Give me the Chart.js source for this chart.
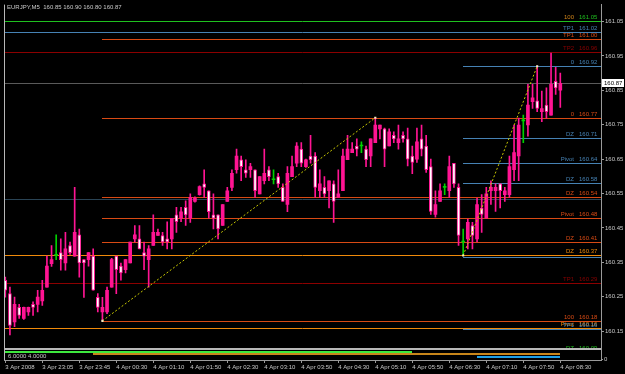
<!DOCTYPE html>
<html>
<head>
<meta charset="utf-8">
<script src="https://cdn.jsdelivr.net/npm/chart.js@4/dist/chart.umd.min.js"></script>
<style>
  html, body { margin: 0; padding: 0; background: #000; }
  canvas { display: block; }
</style>
</head>
<body>
<canvas id="chart" width="625" height="374"></canvas>
<script>
// EURJPY M5 candles, 3 Apr 2008 22:25 -> 4 Apr 08:30
const symbol = 'EURJPY,M5';

const open = [160.298,160.259,160.177,160.219,160.187,160.206,160.228,160.228,160.238,160.278,
  160.346,160.370,160.378,160.348,160.399,160.368,160.430,160.358,160.358,160.368,
  160.248,160.206,160.206,160.278,160.368,160.339,160.329,160.348,160.418,160.418,
  160.378,160.358,160.399,160.428,160.428,160.418,160.418,160.488,160.478,160.510,
  160.478,160.527,160.547,160.578,160.558,160.488,160.488,160.457,160.527,160.568,
  160.619,160.648,160.619,160.619,160.619,160.549,160.587,160.619,160.590,160.599,
  160.568,160.518,160.599,160.638,160.679,160.628,160.659,160.659,160.558,160.568,
  160.558,160.578,160.539,160.558,160.648,160.669,160.688,160.688,160.679,160.659,
  160.698,160.738,160.738,160.688,160.719,160.698,160.719,160.709,160.659,160.650,
  160.709,160.688,160.628,160.489,160.527,160.568,160.558,160.638,160.568,160.409,
  160.418,160.457,160.418,160.508,160.478,160.558,160.558,160.578,160.547,160.547,
  160.619,160.659,160.761,160.749,160.817,160.819,160.788,160.807,160.778,160.876,
  160.85];

const high = [160.307,160.278,160.249,160.228,160.220,160.220,160.235,160.269,160.298,160.368,
  160.399,160.430,160.418,160.437,160.409,160.568,160.447,160.358,160.378,160.389,
  160.259,160.248,160.278,160.362,160.368,160.348,160.358,160.409,160.457,160.457,
  160.409,160.399,160.488,160.447,160.437,160.468,160.478,160.510,160.510,160.529,
  160.549,160.540,160.572,160.619,160.558,160.549,160.488,160.518,160.568,160.619,
  160.679,160.659,160.648,160.638,160.619,160.599,160.679,160.628,160.619,160.609,
  160.578,160.628,160.659,160.698,160.698,160.650,160.719,160.669,160.619,160.599,
  160.587,160.587,160.619,160.679,160.719,160.698,160.709,160.700,160.688,160.709,
  160.770,160.749,160.740,160.738,160.729,160.749,160.729,160.740,160.688,160.740,
  160.749,160.719,160.650,160.558,160.578,160.578,160.659,160.638,160.578,160.447,
  160.476,160.466,160.537,160.547,160.568,160.587,160.578,160.578,160.568,160.659,
  160.749,160.769,160.778,160.867,160.867,160.920,160.848,160.857,160.958,160.917,
  160.90];

const low = [160.249,160.139,160.163,160.187,160.184,160.196,160.196,160.206,160.225,160.278,
  160.338,160.358,160.327,160.327,160.373,160.368,160.307,160.248,160.339,160.269,
  160.206,160.180,160.201,160.278,160.259,160.298,160.319,160.348,160.409,160.389,
  160.329,160.278,160.399,160.428,160.399,160.389,160.389,160.437,160.468,160.457,
  160.466,160.525,160.545,160.539,160.478,160.447,160.418,160.457,160.527,160.558,
  160.609,160.587,160.597,160.597,160.539,160.549,160.578,160.587,160.578,160.568,
  160.527,160.497,160.599,160.628,160.628,160.626,160.638,160.539,160.539,160.539,
  160.508,160.466,160.539,160.558,160.648,160.669,160.659,160.669,160.628,160.628,
  160.698,160.709,160.628,160.688,160.698,160.679,160.699,160.630,160.608,160.640,
  160.659,160.611,160.489,160.481,160.527,160.547,160.539,160.568,160.399,160.370,
  160.389,160.389,160.409,160.437,160.478,160.518,160.498,160.508,160.527,160.539,
  160.587,160.587,160.698,160.717,160.797,160.788,160.759,160.768,160.778,160.838,
  160.80];

const close = [160.269,160.167,160.228,160.196,160.219,160.219,160.219,160.249,160.269,160.339,
  160.358,160.370,160.358,160.389,160.378,160.437,160.348,160.348,160.378,160.269,
  160.219,160.219,160.269,160.358,160.329,160.319,160.358,160.409,160.430,160.389,
  160.368,160.389,160.437,160.437,160.409,160.409,160.478,160.468,160.497,160.488,
  160.539,160.537,160.570,160.568,160.497,160.478,160.447,160.518,160.558,160.609,
  160.659,160.628,160.609,160.628,160.558,160.599,160.609,160.599,160.590,160.578,
  160.527,160.609,160.628,160.688,160.638,160.648,160.648,160.568,160.578,160.549,
  160.587,160.527,160.549,160.659,160.679,160.679,160.679,160.688,160.648,160.709,
  160.749,160.749,160.679,160.729,160.709,160.709,160.709,160.650,160.640,160.700,
  160.679,160.619,160.498,160.518,160.558,160.568,160.628,160.578,160.428,160.409,
  160.466,160.428,160.518,160.489,160.549,160.568,160.568,160.558,160.558,160.628,
  160.669,160.749,160.761,160.807,160.828,160.797,160.797,160.788,160.867,160.857,
  160.87];

// time axis: one label every 8 bars
const timeTickBars = [0, 8, 16, 24, 32, 40, 48, 56, 64, 72, 80, 88, 96, 104, 112, 120];
const timeTickLabels = ['3 Apr 2008', '3 Apr 23:05', '3 Apr 23:45', '4 Apr 00:30', '4 Apr 01:10',
  '4 Apr 01:50', '4 Apr 02:30', '4 Apr 03:10', '4 Apr 03:50', '4 Apr 04:30', '4 Apr 05:10',
  '4 Apr 05:50', '4 Apr 06:30', '4 Apr 07:10', '4 Apr 07:50', '4 Apr 08:30'];

const priceTicks = [160.15, 160.25, 160.35, 160.45, 160.55, 160.65, 160.75, 160.85, 160.95, 161.05];

// horizontal levels (start bar -1 = whole chart, null = label only)
const levelPrices = [161.05, 161.02, 161.00, 160.96, 160.92, 160.77, 160.71, 160.64, 160.58, 160.54,
  160.535, 160.48, 160.41, 160.37, 160.365, 160.29, 160.18, 160.16, 160.156, 160.09];
const levelNames = ['100', 'TP1', 'TP1', 'TP2', '0', '0', 'DZ', 'Pivot', 'DZ', 'DZ',
  '', 'Pivot', 'DZ', 'DZ', '', 'TP1', '100', 'Pivot', 'TP1', 'DZ'];
const levelStartBar = [-1, -1, 21, -1, 99, 21, 99, 99, 99, 21,
  -1, 21, 21, -1, 99, -1, 21, -1, 99, null];

// fib legs (dotted)
const legFromBar = [21, 99];
const legToBar = [80, 115];
const legFromPrice = [160.18, 160.37];
const legToPrice = [160.77, 160.92];

// indicator sub-window
const subValues = [6, 4, 2];
const subFromBar = [0, 19, 102];
const subToBar = [88, 120, 120];
const subTicks = [0, 8];

// --- styling ---
const GREEN = '#1fc01f', STEEL = '#4682b4', OREDD = '#d84a14', DRED = '#8b0000',
      ORANGE = '#f08a0a', SLATE = '#2a4455';
const levelColors = [GREEN, STEEL, OREDD, DRED, STEEL, OREDD, STEEL, STEEL, STEEL, OREDD,
  SLATE, OREDD, OREDD, ORANGE, STEEL, DRED, OREDD, ORANGE, STEEL, GREEN];
const levelNameColors = levelColors.map((c, i) => i === 0 ? '#d0841a' : c);
const subColors = ['#3ee83e', '#c8861a', '#1ea0e6'];

const PINK = '#ff1493', BEAR = '#ffffff', DOJI = '#00d000';
const TEXT = '#c8c8c8', AXIS = '#9a9a9a';
const X_MIN = -0.28, X_MAX = 128.8;
const FONT = '"Liberation Sans", Arial, sans-serif';

Chart.defaults.font.family = FONT;
Chart.defaults.font.size = 6;

const bars = open.map((_, i) => i);
const isDoji = i => open[i] === close[i];
const isBear = i => close[i] < open[i];
const last = close.length - 1;

const datasets = [];

legFromBar.forEach((b, i) => {
  datasets.push({
    type: 'line', yAxisID: 'y', order: 0,
    data: [{x: b, y: legFromPrice[i]}, {x: legToBar[i], y: legToPrice[i]}],
    borderColor: '#c8c800', borderWidth: 1, borderDash: [2, 2],
    pointRadius: 1.5, pointStyle: 'rect', pointBackgroundColor: '#f0f0c0', pointBorderWidth: 0
  });
});

// candle bodies
datasets.push({
  type: 'bar', yAxisID: 'y', order: 1, grouped: false,
  data: bars.map(i => ({x: i, y: [open[i], close[i]]})),
  barThickness: 3, minBarLength: 1, borderSkipped: false,
  backgroundColor: c => isDoji(c.dataIndex) ? DOJI : (isBear(c.dataIndex) ? BEAR : PINK),
  borderColor: c => isDoji(c.dataIndex) ? DOJI : PINK,
  borderWidth: c => isBear(c.dataIndex) ? 1 : 0
});

// wicks
datasets.push({
  type: 'bar', yAxisID: 'y', order: 2, grouped: false,
  data: bars.map(i => ({x: i, y: [low[i], high[i]]})),
  barThickness: 1, borderSkipped: false, borderWidth: 0,
  backgroundColor: c => isDoji(c.dataIndex) ? DOJI : PINK
});

// crisp horizontal lines, placed through the chart's scales
function hLine(ctx, x0, x1, py, color, width) {
  ctx.strokeStyle = color;
  ctx.lineWidth = width;
  const yy = width % 2 ? Math.round(py) + 0.5 : Math.round(py);
  ctx.beginPath();
  ctx.moveTo(Math.round(x0), yy);
  ctx.lineTo(Math.round(x1), yy);
  ctx.stroke();
}

const chrome = {
  id: 'chrome',
  beforeDraw(chart) {
    const {ctx, width, height} = chart;
    ctx.save();
    ctx.fillStyle = '#000';
    ctx.fillRect(0, 0, width, height);
    ctx.restore();
  },
  beforeDatasetsDraw(chart) {
    const {ctx, chartArea: a, scales: {x, y, y2}} = chart;
    ctx.save();
    levelPrices.forEach((p, i) => {
      const s = levelStartBar[i];
      if (s === null) return;
      const x0 = s < 0 ? a.left : x.getPixelForValue(s);
      hLine(ctx, x0, a.right, y.getPixelForValue(p), levelColors[i], 1);
    });
    // bid line
    hLine(ctx, a.left, a.right, y.getPixelForValue(close[last]), '#5a5a5a', 1);
    // sub-window indicator
    subValues.forEach((v, i) => {
      hLine(ctx, x.getPixelForValue(subFromBar[i]), x.getPixelForValue(subToBar[i]),
        y2.getPixelForValue(v), subColors[i], 2);
    });
    ctx.restore();
  },
  afterDatasetsDraw(chart) {
    const {ctx, chartArea: a, scales: {y}} = chart;
    ctx.save();
    ctx.font = '6px ' + FONT;
    ctx.textBaseline = 'bottom';
    levelPrices.forEach((p, i) => {
      if (!levelNames[i]) return;
      const py = Math.round(y.getPixelForValue(p));
      ctx.textAlign = 'right';
      ctx.fillStyle = levelNameColors[i];
      ctx.fillText(levelNames[i], a.right - 27, py - 1);
      ctx.textAlign = 'left';
      ctx.fillStyle = levelColors[i];
      ctx.fillText(p.toFixed(2), a.right - 22, py - 1);
    });
    ctx.restore();
  },
  afterDraw(chart) {
    const {ctx, chartArea: a, scales: {y, y2}} = chart;
    ctx.save();
    // window frames
    ctx.fillStyle = '#b8b8b8';
    ctx.fillRect(a.left, a.top, 1, a.bottom - a.top);
    ctx.fillRect(a.left, Math.round(y.bottom) - 1, a.right - a.left, 2);

    ctx.font = '6px ' + FONT;
    ctx.textBaseline = 'middle';
    ctx.textAlign = 'left';
    ctx.fillStyle = TEXT;
    const f = v => v.toFixed(2);
    ctx.fillText(`${symbol}  ${f(open[last])} ${f(high[last])} ${f(low[last])} ${f(close[last])}`, a.left + 3, 7);
    ctx.fillText(subValues[0].toFixed(4) + ' ' + subValues[1].toFixed(4), a.left + 4, y2.top + 7);

    // bid box on the price axis
    const py = Math.round(y.getPixelForValue(close[last]));
    ctx.fillStyle = '#ffffff';
    ctx.fillRect(a.right + 1, py - 4, 22, 8);
    ctx.fillStyle = '#000';
    ctx.fillText(f(close[last]), a.right + 3, py);
    ctx.restore();
  }
};

new Chart(document.getElementById('chart'), {
  type: 'bar',
  data: { datasets },
  options: {
    responsive: false,
    animation: false,
    devicePixelRatio: 1,
    layout: { padding: { left: 2, top: 3, right: 0, bottom: 0 } },
    plugins: { legend: { display: false }, tooltip: { enabled: false } },
    scales: {
      x: {
        type: 'linear', min: X_MIN, max: X_MAX, offset: false, position: 'bottom',
        afterBuildTicks: s => { s.ticks = timeTickBars.map(v => ({value: v})); },
        afterFit: s => { s.height = 14; },
        grid: { drawOnChartArea: false, color: AXIS, tickLength: 3, offset: false },
        border: { color: AXIS },
        ticks: {
          align: 'start', autoSkip: false, maxRotation: 0, padding: 1, color: TEXT,
          callback: v => timeTickLabels[timeTickBars.indexOf(v)]
        }
      },
      y: {
        type: 'linear', position: 'right', stack: 'win', stackWeight: 346,
        min: 160.098, max: 161.099,
        afterBuildTicks: s => { s.ticks = priceTicks.map(v => ({value: v})); },
        afterFit: s => { s.width = 24; },
        grid: { drawOnChartArea: false, color: AXIS, tickLength: 3 },
        border: { color: AXIS },
        ticks: { padding: 1, color: TEXT, callback: v => v.toFixed(2) }
      },
      y2: {
        type: 'linear', position: 'right', stack: 'win', stackWeight: 11,
        min: -0.5, max: 8.3,
        afterBuildTicks: s => { s.ticks = subTicks.map(v => ({value: v})); },
        afterFit: s => { s.width = 24; },
        grid: { drawOnChartArea: false, color: AXIS, tickLength: 2 },
        border: { color: AXIS },
        ticks: { padding: 1, color: TEXT, callback: v => String(v) }
      }
    }
  },
  plugins: [chrome]
});
</script>
</body>
</html>
